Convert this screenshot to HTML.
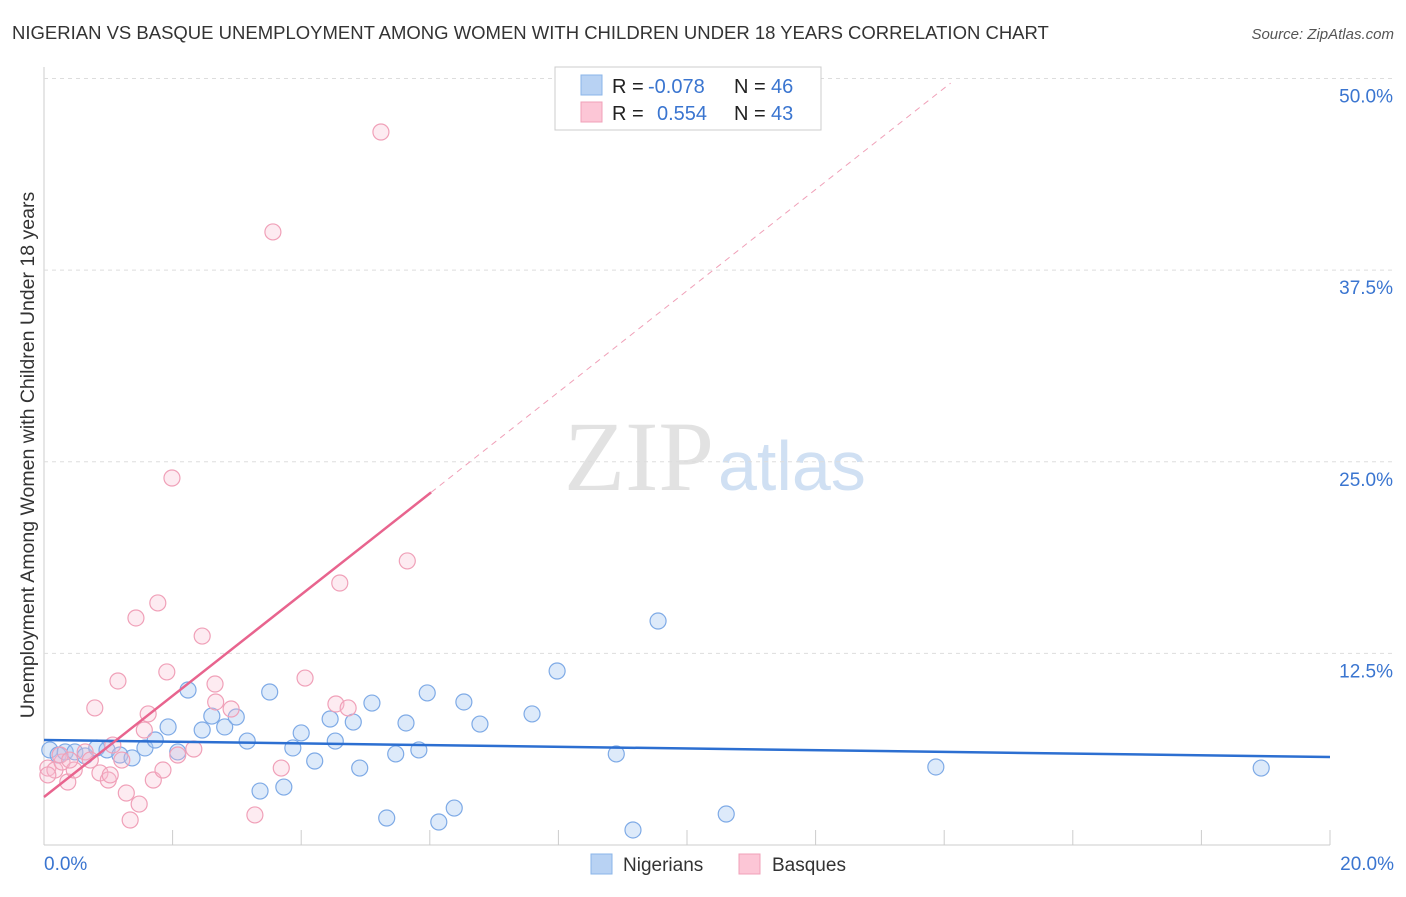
<!DOCTYPE html>
<html><head><meta charset="utf-8"><style>
body{margin:0;background:#fff;font-family:"Liberation Sans",sans-serif;}
svg text{font-family:"Liberation Sans",sans-serif;}
</style></head><body>
<svg id="chart" width="1406" height="892">
<text x="12" y="39" font-size="18.5" fill="#333">NIGERIAN VS BASQUE UNEMPLOYMENT AMONG WOMEN WITH CHILDREN UNDER 18 YEARS CORRELATION CHART</text>
<text x="1394" y="39" font-size="15" fill="#555" font-style="italic" text-anchor="end">Source: ZipAtlas.com</text>
<text x="714" y="490" font-size="100" fill="#e2e2e2" style="font-family:'Liberation Serif',serif" text-anchor="end">ZIP</text>
<text x="718" y="490" font-size="70" fill="#d0e0f3">atlas</text>
<text transform="translate(34,455) rotate(-90)" font-size="19.5" fill="#333" text-anchor="middle">Unemployment Among Women with Children Under 18 years</text>
<g id="grid"></g><g id="marks"></g>
<g>
<rect x="555" y="67" width="266" height="63" fill="#fff" stroke="#ccc"/>
<rect x="581" y="75" width="21" height="20" fill="#b8d2f3" stroke="#8ab4e8"/>
<rect x="581" y="102" width="21" height="20" fill="#fcc6d6" stroke="#f0a0b8"/>
<text x="612" y="93" font-size="20" fill="#222">R =</text>
<text x="648" y="93" font-size="20" fill="#3a75d0">-0.078</text>
<text x="734" y="93" font-size="20" fill="#222">N =</text>
<text x="771" y="93" font-size="20" fill="#3a75d0">46</text>
<text x="612" y="120" font-size="20" fill="#222">R =</text>
<text x="657" y="120" font-size="20" fill="#3a75d0">0.554</text>
<text x="734" y="120" font-size="20" fill="#222">N =</text>
<text x="771" y="120" font-size="20" fill="#3a75d0">43</text>
</g>
<g>
<rect x="591" y="854" width="21" height="20" fill="#b8d2f3" stroke="#8ab4e8"/>
<text x="623" y="871" font-size="19" fill="#333">Nigerians</text>
<rect x="739" y="854" width="21" height="20" fill="#fcc6d6" stroke="#f0a0b8"/>
<text x="772" y="871" font-size="19" fill="#333">Basques</text>
</g>
</svg>
<script>
const xTicks=[0,20];
const yTicks=[12.5,25,37.5,50];
const blueX=[0.09,0.22,0.33,0.48,0.64,0.82,0.98,1.18,1.37,1.57,1.73,1.93,2.08,2.24,2.46,2.61,2.81,2.99,3.16,3.36,3.51,3.73,3.87,4.00,4.21,4.45,4.53,4.81,4.91,5.10,5.33,5.47,5.63,5.83,5.96,6.14,6.38,6.53,6.78,7.59,7.98,8.90,9.16,9.55,10.61,13.87,18.93];
const blueY=[6.20,5.87,6.07,6.07,5.81,6.33,6.20,5.87,5.68,6.33,6.85,7.70,6.07,10.11,7.50,8.41,7.70,8.35,6.78,3.52,9.98,3.78,6.33,7.31,5.48,8.22,6.78,8.02,5.02,9.26,1.76,5.94,7.96,6.20,9.92,1.50,2.41,9.33,7.89,8.55,11.35,5.94,0.98,14.61,2.02,5.09,5.02];
const pinkX=[0.06,0.17,0.28,0.37,0.47,0.64,0.79,0.87,1.00,1.15,1.21,1.28,1.34,1.43,1.48,1.56,1.62,1.70,1.77,1.85,1.91,1.99,2.08,2.33,2.46,2.66,2.67,2.91,3.28,3.56,3.69,4.06,4.54,4.60,4.73,5.24,5.65,0.06,0.25,1.03,0.72,1.07,0.40];
const pinkY=[5.02,4.89,5.41,4.11,4.89,6.07,8.94,4.70,4.24,10.70,5.54,3.39,1.63,14.81,2.67,7.50,8.55,4.24,15.79,4.89,11.29,23.94,5.87,6.26,13.63,10.50,9.33,8.87,1.96,39.99,5.02,10.89,9.20,17.09,8.94,46.51,18.53,4.57,5.87,4.57,5.54,6.52,5.54];
const blueLine=[[0,6.85],[20,5.74]];
const pinkLine=[[0,3.13],[6.02,23.0]];
const pinkDash=[[6.02,23.0],[14.1,49.7]];
const X=v=>44+v*64.3, Y=v=>845-v*15.33;
const NS="http://www.w3.org/2000/svg";
const grid=document.getElementById('grid'), marks=document.getElementById('marks');
function mk(tag,attrs,parent){const e=document.createElementNS(NS,tag);for(const k in attrs)e.setAttribute(k,attrs[k]);parent.appendChild(e);return e;}
let ax=mk('line',{x1:44,y1:67,x2:44,y2:845,stroke:'#ccc'},grid);


let bx=mk('line',{x1:44,y1:845,x2:1330,y2:845,stroke:'#ccc'},grid);


for(let i=0;i<=10;i++){let t=mk('line',{x1:X(i*2),y1:830,x2:X(i*2),y2:845,stroke:'#ccc'},grid);

}
yTicks.forEach(v=>{let g=mk('line',{x1:44,y1:Y(v),x2:1394,y2:Y(v),stroke:'#ddd','stroke-dasharray':'4,4'},grid);


let t=mk('text',{x:1393,y:Y(v)+24,'font-size':19,fill:'#3a75d0','text-anchor':'end'},grid);t.textContent=v.toFixed(1)+'%';

});
xTicks.forEach((v,i)=>{let t=mk('text',{x:i?1394:44,y:870,'font-size':19,fill:'#3a75d0','text-anchor':i?'end':'start'},grid);t.textContent=v.toFixed(1)+'%';

});
blueX.forEach((v,i)=>{let c=mk('circle',{cx:X(v),cy:Y(blueY[i]),r:8,fill:'rgba(170,202,242,0.4)',stroke:'#7eaae6','stroke-width':1.2},marks);

});
pinkX.forEach((v,i)=>{let c=mk('circle',{cx:X(v),cy:Y(pinkY[i]),r:8,fill:'rgba(248,190,208,0.3)',stroke:'#f0a0b8','stroke-width':1.2},marks);

});
let l1=mk('line',{x1:X(blueLine[0][0]),y1:Y(blueLine[0][1]),x2:X(blueLine[1][0]),y2:Y(blueLine[1][1]),stroke:'#2c6fd1','stroke-width':2.5},marks);


let l2=mk('line',{x1:X(pinkLine[0][0]),y1:Y(pinkLine[0][1]),x2:X(pinkLine[1][0]),y2:Y(pinkLine[1][1]),stroke:'#e8648e','stroke-width':2.5},marks);


let l3=mk('line',{x1:X(pinkDash[0][0]),y1:Y(pinkDash[0][1]),x2:X(pinkDash[1][0]),y2:Y(pinkDash[1][1]),stroke:'#f0a0b8','stroke-width':1,'stroke-dasharray':'6,5'},marks);


</script>
</body></html>
